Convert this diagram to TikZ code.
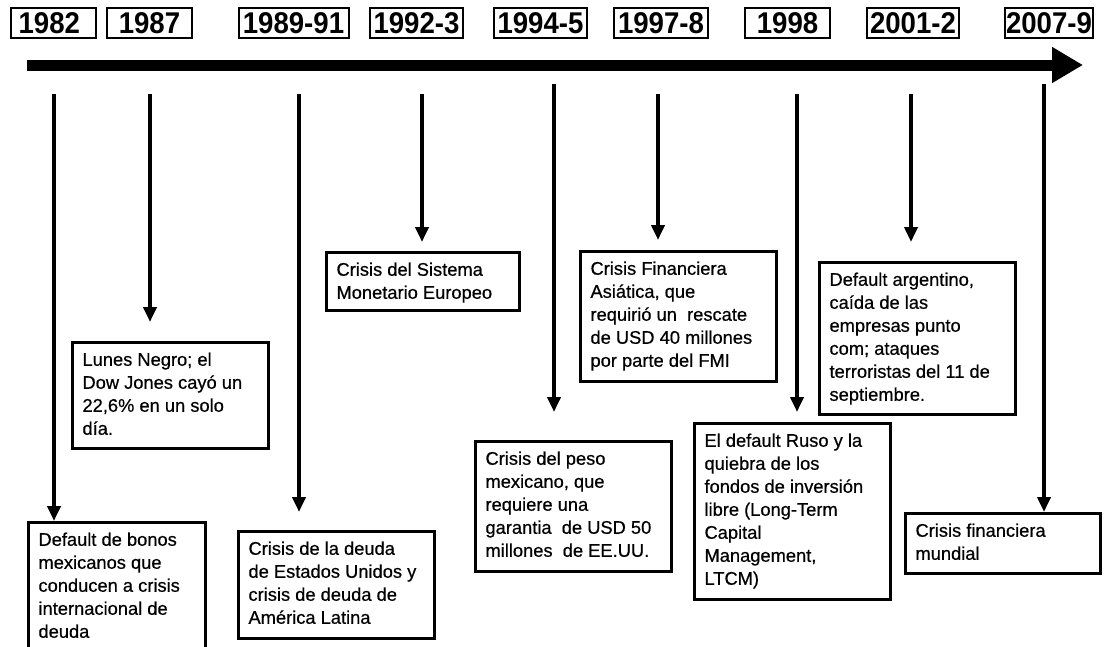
\documentclass[tikz,border=0pt]{standalone}
\usepackage{fontspec}
\setmainfont[FakeBold=0.5]{Liberation Sans}
\newfontfamily\yearfont[FakeStretch=0.92]{Liberation Sans}
\usetikzlibrary{arrows.meta}
\tikzset{
  yearbox/.style={draw, line width=2pt, minimum height=30pt, inner sep=0pt, anchor=west,
    font=\yearfont\bfseries\fontsize{30}{30}\selectfont},
  evbox/.style={draw, line width=3pt, inner xsep=10pt, inner ysep=10pt, anchor=north west,
    font=\fontsize{18.3}{23}\selectfont},
  varr/.style={line width=4pt, -{Triangle[length=15pt,width=13pt]}},
  mainarr/.style={line width=11pt, -{Triangle[length=31pt,width=34pt]}}
}
\newcommand\evtext[3]{\parbox[c][#1][t]{#2}{\raggedright #3}}
\begin{document}
\begin{tikzpicture}[x=1pt,y=-1pt]
\useasboundingbox (0,0) rectangle (1107,646);
\clip (0,0) rectangle (1107,646);
\fill[white] (0,0) rectangle (1107,646);

% year labels
\node[yearbox, minimum width=85pt, align=left, text width=69pt, inner xsep=8pt]  (y82) at (9.6,23) {1982};
\node[yearbox, minimum width=85pt]  (y87) at (106,23) {1987};
\node[yearbox, minimum width=110pt] (y89) at (237.5,23) {1989-91};
\node[yearbox, minimum width=93pt]  (y92) at (369,23) {1992-3};
\node[yearbox, minimum width=93pt]  (y94) at (493,23) {1994-5};
\node[yearbox, minimum width=94pt]  (y97) at (613,23) {1997-8};
\node[yearbox, minimum width=85pt]  (y98) at (744,23) {1998};
\node[yearbox, minimum width=92pt]  (y01) at (866,23) {2001-2};
\node[yearbox, minimum width=88pt]  (y07) at (1004,23) {2007-9};

% main time line
\coordinate (ms) at (27,65);
\coordinate (me) at (1083,65);
\draw[mainarr] (ms) -- (me);

% event boxes
\node[evbox] (b82) at (27,521) {\evtext{119pt}{157pt}{Default de bonos\\ mexicanos que\\ conducen a crisis\\ internacional de\\ deuda}};
\node[evbox] (b87) at (71,341) {\evtext{86pt}{176pt}{Lunes Negro; el\\ Dow Jones cayó un\\ 22,6\% en un solo\\ día.}};
\node[evbox] (b89) at (237,530) {\evtext{87pt}{176pt}{Crisis de la deuda\\ de Estados Unidos y\\ crisis de deuda de\\ América Latina}};
\node[evbox] (b92) at (325,251) {\evtext{38pt}{173pt}{Crisis del Sistema\\ Monetario Europeo}};
\node[evbox] (b94) at (474,440) {\evtext{110pt}{176pt}{Crisis del peso\\ mexicano, que\\ requiere una\\ garantia\ \ de USD 50\\ millones\ \ de EE.UU.}};
\node[evbox] (b97) at (579,250) {\evtext{110pt}{176pt}{Crisis Financiera\\ Asiática, que\\ requirió un\ \ rescate\\ de USD 40 millones\\ por parte del FMI}};
\node[evbox] (b98) at (693,422) {\evtext{156pt}{176pt}{El default Ruso y la\\ quiebra de los\\ fondos de inversión\\ libre (Long-Term\\ Capital\\ Management,\\ LTCM)}};
\node[evbox] (b01) at (818,261) {\evtext{132pt}{176pt}{Default argentino,\\ caída de las\\ empresas punto\\ com; ataques\\ terroristas del 11 de\\ septiembre.}};
\node[evbox] (b07) at (904,512) {\evtext{40pt}{175pt}{Crisis financiera\\ mundial}};

% arrow start points
\coordinate (a82) at (54,94);
\coordinate (a87) at (150,94);
\coordinate (a89) at (299,94);
\coordinate (a92) at (422,94);
\coordinate (a94) at (554,84);
\coordinate (a97) at (658,94);
\coordinate (a98) at (797,94);
\coordinate (a01) at (911,94);
\coordinate (a07) at (1044,84);

\draw[varr] (a82) -- (a82 |- b82.north);
\draw[varr, shorten >=19pt] (a87) -- (a87 |- b87.north);
\draw[varr, shorten >=18pt] (a89) -- (a89 |- b89.north);
\draw[varr, shorten >=9pt]  (a92) -- (a92 |- b92.north);
\draw[varr, shorten >=28pt] (a94) -- (a94 |- b94.north);
\draw[varr, shorten >=10pt] (a97) -- (a97 |- b97.north);
\draw[varr, shorten >=10pt] (a98) -- (a98 |- b98.north);
\draw[varr, shorten >=19pt] (a01) -- (a01 |- b01.north);
\draw[varr] (a07) -- (a07 |- b07.north);
\end{tikzpicture}
\end{document}
